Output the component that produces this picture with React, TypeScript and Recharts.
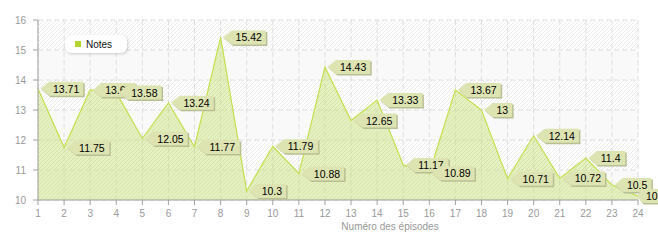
import React from 'react';
import { AreaChart, Area, XAxis, YAxis, CartesianGrid, Legend, LabelList, Label } from 'recharts';

const episodes = ['1','2','3','4','5','6','7','8','9','10','11','12','13','14','15','16','17','18','19','20','21','22','23','24'];
const notes = [13.71, 11.75, 13.67, 13.58, 12.05, 13.24, 11.77, 15.42, 10.3, 11.79, 10.88, 14.43, 12.65, 13.33, 11.17, 10.89, 13.67, 13, 10.71, 12.14, 10.72, 11.4, 10.5, 10.13];
const yTicks = [10, 11, 12, 13, 14, 15, 16];

const data = episodes.map((ep, i) => ({ ep, notes: notes[i] }));

const FONT = '"Liberation Sans", Arial, sans-serif';
const CHART_W = 658;

function textWidth(s: string, fs: number) {
  let w = 0;
  for (const c of s) w += c === '.' ? 0.278 * fs : 0.556 * fs;
  return w;
}

const Callout = (props: any) => {
  const { x, y, value } = props;
  if (x == null || y == null) return null;
  const fs = 10.5;
  const text = String(value);
  const w = textWidth(text, fs);
  let tipX = x + 2.5;
  let bx = x + 11;
  // keep the start of the label visible at the right edge, as in the reference
  if (bx + 4 > CHART_W - 12) {
    const shift = bx + 4 - (CHART_W - 12);
    bx -= shift;
    tipX -= shift / 2;
  }
  const bw = w + 8;
  const top = y - 7;
  const h = 14;
  const d = `M${tipX},${y} L${bx},${top} L${bx + bw},${top} L${bx + bw},${top + h} L${bx},${top + h} Z`;
  return (
    <g>
      <path d={d} transform="translate(1.5,1.5)" fill="#b9bf94" />
      <path d={d} fill="#dde4b2" />
      <text x={bx + 4} y={y + 4} fontSize={fs} fontFamily={FONT} fill="#000">{text}</text>
    </g>
  );
};

const LegendBox = () => (
  <div style={{
    background: '#fff', borderRadius: 6, boxShadow: '1px 1px 3px rgba(0,0,0,0.18)',
    width: 62, height: 18, display: 'flex', alignItems: 'center', boxSizing: 'border-box',
    paddingLeft: 10, fontFamily: FONT, fontSize: 10, color: '#111'
  }}>
    <span style={{ display: 'inline-block', width: 6, height: 6, background: '#b5d331', marginRight: 5 }} />
    <span>Notes</span>
  </div>
);

export default function App() {
  return (
    <div style={{ position: 'absolute', left: 0, top: 0, width: 658, height: 240, background: '#fff' }}>
      <AreaChart width={CHART_W} height={240} data={data} margin={{ top: 20, right: 20, left: 8, bottom: 10 }}>
        <defs>
          <pattern id="hatch" patternUnits="userSpaceOnUse" width="4" height="4">
            <rect width="4" height="4" fill="#ffffff" />
            <path d="M-1,1 l2,-2 M0,4 l4,-4 M3,5 l2,-2" stroke="#ebebeb" strokeWidth="1" />
          </pattern>
          <pattern id="areaHatch" patternUnits="userSpaceOnUse" width="4" height="4">
            <rect width="4" height="4" fill="#c9e27a" fillOpacity="0.45" />
            <path d="M-1,1 l2,-2 M0,4 l4,-4 M3,5 l2,-2" stroke="#bcd65f" strokeOpacity="0.25" strokeWidth="1" />
          </pattern>
        </defs>
        <CartesianGrid
          stroke="#dedede"
          strokeDasharray="5 3"
          horizontalFill={['url(#hatch)', '#f9f9f9']}
        />
        <XAxis
          dataKey="ep"
          stroke="#a0a0a0"
          tickSize={5}
          tickMargin={5}
          height={30}
          interval={0}
          tick={{ fill: '#999', fontSize: 10, fontFamily: FONT }}
        >
          <Label
            content={(p: any) => {
              const vb = p.viewBox || {};
              return (
                <text x={vb.x + vb.width / 2 + 52} y={vb.y + 30} textAnchor="middle" fontSize={10} fontFamily={FONT} fill="#999">
                  Numéro des épisodes
                </text>
              );
            }}
          />
        </XAxis>
        <YAxis
          domain={[10, 16]}
          ticks={yTicks}
          width={30}
          stroke="#a0a0a0"
          tickSize={5}
          tickMargin={7}
          tick={{ fill: '#999', fontSize: 10, fontFamily: FONT }}
        />
        <Legend
          layout="horizontal"
          verticalAlign="middle"
          align="center"
          wrapperStyle={{ left: 65, top: 35, width: 'auto', height: 'auto' }}
          content={() => <LegendBox />}
        />
        <Area
          type="linear"
          dataKey="notes"
          name="Notes"
          stroke="#c4df4c"
          strokeWidth={1.2}
          fill="url(#areaHatch)"
          fillOpacity={1}
          dot={false}
          activeDot={false}
          isAnimationActive={false}
        >
          <LabelList dataKey="notes" content={<Callout />} />
        </Area>
      </AreaChart>
    </div>
  );
}
